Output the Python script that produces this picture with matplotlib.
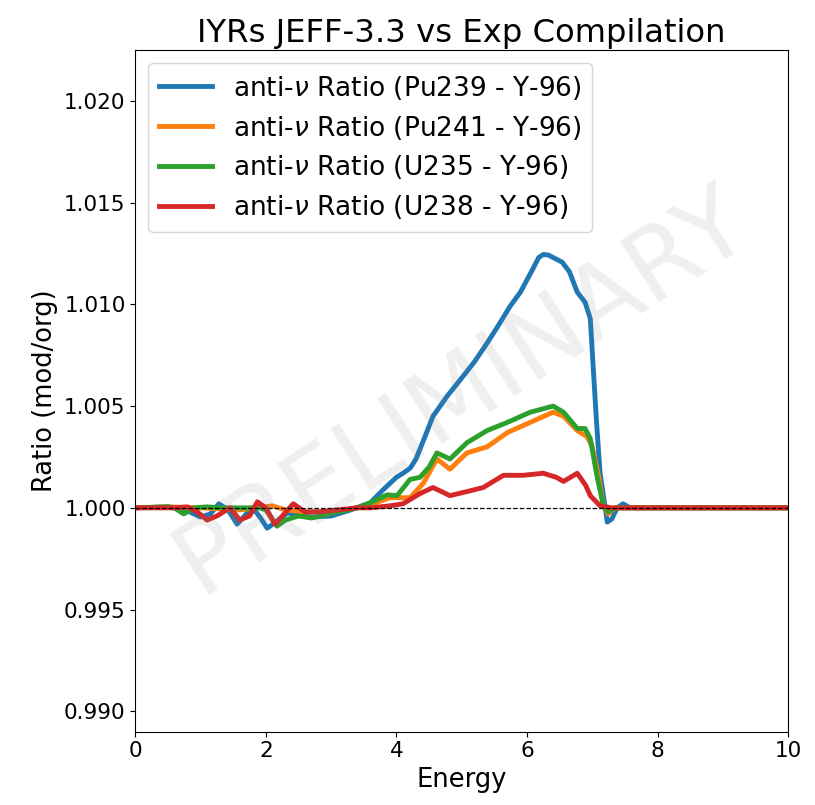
import matplotlib
matplotlib.use("Agg")
import matplotlib.pyplot as plt
import numpy as np

# energies and deviations from 1 (in units of 1e-3)
e_pu239 = [0, 0.5, 0.8, 1.0, 1.15, 1.28, 1.42, 1.56, 1.7, 1.8, 1.92, 2.02, 2.15, 2.33, 2.5,
           2.7, 3.0, 3.3, 3.6, 3.8, 4.0, 4.1, 4.21, 4.3, 4.4, 4.56, 4.78, 5.03, 5.2, 5.39, 5.55,
           5.74, 5.9, 6.0, 6.1, 6.18, 6.25, 6.33, 6.4, 6.54, 6.65, 6.77, 6.89, 6.97, 7.02,
           7.07, 7.12, 7.18, 7.23, 7.3, 7.38, 7.47, 7.58, 7.69, 10]
d_pu239 = [0, 0.05, -0.15, -0.45, -0.3, 0.2, -0.1, -0.8, -0.3, 0, -0.5, -1.0, -0.7, -0.25, -0.35,
           -0.45, -0.4, -0.1, 0.25, 0.9, 1.5, 1.7, 1.95, 2.4, 3.2, 4.5, 5.5, 6.5, 7.2, 8.1, 8.9,
           9.9, 10.6, 11.2, 11.8, 12.3, 12.45, 12.42, 12.3, 12.07, 11.6, 10.6, 10.1, 9.3, 6.6,
           4.0, 1.7, 0.4, -0.7, -0.55, 0.0, 0.2, 0.0, 0.0, 0]

e_pu241 = [0, 0.5, 1.0, 1.6, 2.1, 2.3, 2.6, 3.0, 3.3, 3.6, 3.9, 4.21, 4.41, 4.62, 4.82, 5.08,
           5.39, 5.7, 6.05, 6.4, 6.56, 6.77, 6.92, 7.0, 7.1, 7.17, 7.24, 7.35, 10]
d_pu241 = [0, 0.05, 0, -0.1, 0.1, -0.1, -0.2, -0.2, -0.05, 0.15, 0.5, 0.5, 1.2, 2.4, 1.9, 2.7,
           3.0, 3.7, 4.2, 4.7, 4.5, 3.8, 3.5, 3.0, 1.5, 0.1, -0.3, 0, 0]

e_u235 = [0, 0.5, 0.6, 0.74, 0.9, 1.1, 1.3, 1.6, 1.9, 2.0, 2.17, 2.3, 2.5, 2.7, 2.9, 3.1, 3.4,
          3.6, 3.86, 4.01, 4.21, 4.36, 4.5, 4.62, 4.82, 5.08, 5.39, 5.7, 6.05, 6.4, 6.56, 6.77,
          6.89, 6.97, 7.07, 7.17, 7.24, 7.35, 10]
d_u235 = [0, 0.05, 0, -0.3, 0, 0.05, 0, 0, 0, -0.1, -0.9, -0.6, -0.4, -0.5, -0.35, -0.2, 0.0,
          0.25, 0.64, 0.6, 1.4, 1.5, 2.0, 2.7, 2.4, 3.2, 3.8, 4.2, 4.7, 5.0, 4.7, 3.9,
          3.9, 3.4, 1.6, 0.1, -0.2, 0, 0]

e_u238 = [0, 0.6, 0.8, 0.95, 1.1, 1.25, 1.45, 1.6, 1.75, 1.87, 2.0, 2.14, 2.28, 2.42, 2.6, 2.8,
          3.1, 3.4, 3.6, 3.9, 4.1, 4.36, 4.56, 4.82, 5.08, 5.33, 5.64, 5.94, 6.25, 6.45, 6.56,
          6.77, 6.9, 6.97, 7.12, 7.3, 10]
d_u238 = [0, 0, 0.05, -0.2, -0.6, -0.4, 0, -0.6, -0.4, 0.3, 0, -0.8, -0.3, 0.2, -0.2, -0.2,
          -0.1, 0, 0, 0.1, 0.2, 0.7, 1.0, 0.6, 0.8, 1.0, 1.6, 1.6, 1.7, 1.5, 1.3,
          1.7, 1.1, 0.6, 0.1, 0, 0]

series = [
    ("anti-$\\nu$ Ratio (Pu239 - Y-96)", e_pu239, d_pu239, "#1f77b4"),
    ("anti-$\\nu$ Ratio (Pu241 - Y-96)", e_pu241, d_pu241, "#ff7f0e"),
    ("anti-$\\nu$ Ratio (U235 - Y-96)", e_u235, d_u235, "#2ca02c"),
    ("anti-$\\nu$ Ratio (U238 - Y-96)", e_u238, d_u238, "#d62728"),
]

fig = plt.figure(figsize=(8.15, 8.05), dpi=100)
ax = fig.add_axes([0.166, 0.091, 0.801, 0.847])

for label, e, d, c in series:
    ax.plot(e, 1 + np.array(d) * 1e-3, color=c, lw=3.5, label=label,
            solid_joinstyle="round")

ax.axhline(1.0, color="black", ls="--", lw=0.9)

ax.text(0.5, 0.5, "PRELIMINARY", transform=ax.transAxes, fontsize=72,
        color="gray", alpha=0.13, rotation=33, ha="center", va="center")

ax.set_xlim(0, 10)
ax.set_ylim(0.989, 1.0225)
ax.set_yticks([0.990, 0.995, 1.000, 1.005, 1.010, 1.015, 1.020])
ax.tick_params(labelsize=15.5)
ax.set_xlabel("Energy", fontsize=18.5)
ax.set_ylabel("Ratio (mod/org)", fontsize=18.5)
ax.set_title("IYRs JEFF-3.3 vs Exp Compilation", fontsize=23.2)
ax.legend(loc="upper left", fontsize=19, handlelength=2.0, labelspacing=0.45)

fig.savefig("out.png")
